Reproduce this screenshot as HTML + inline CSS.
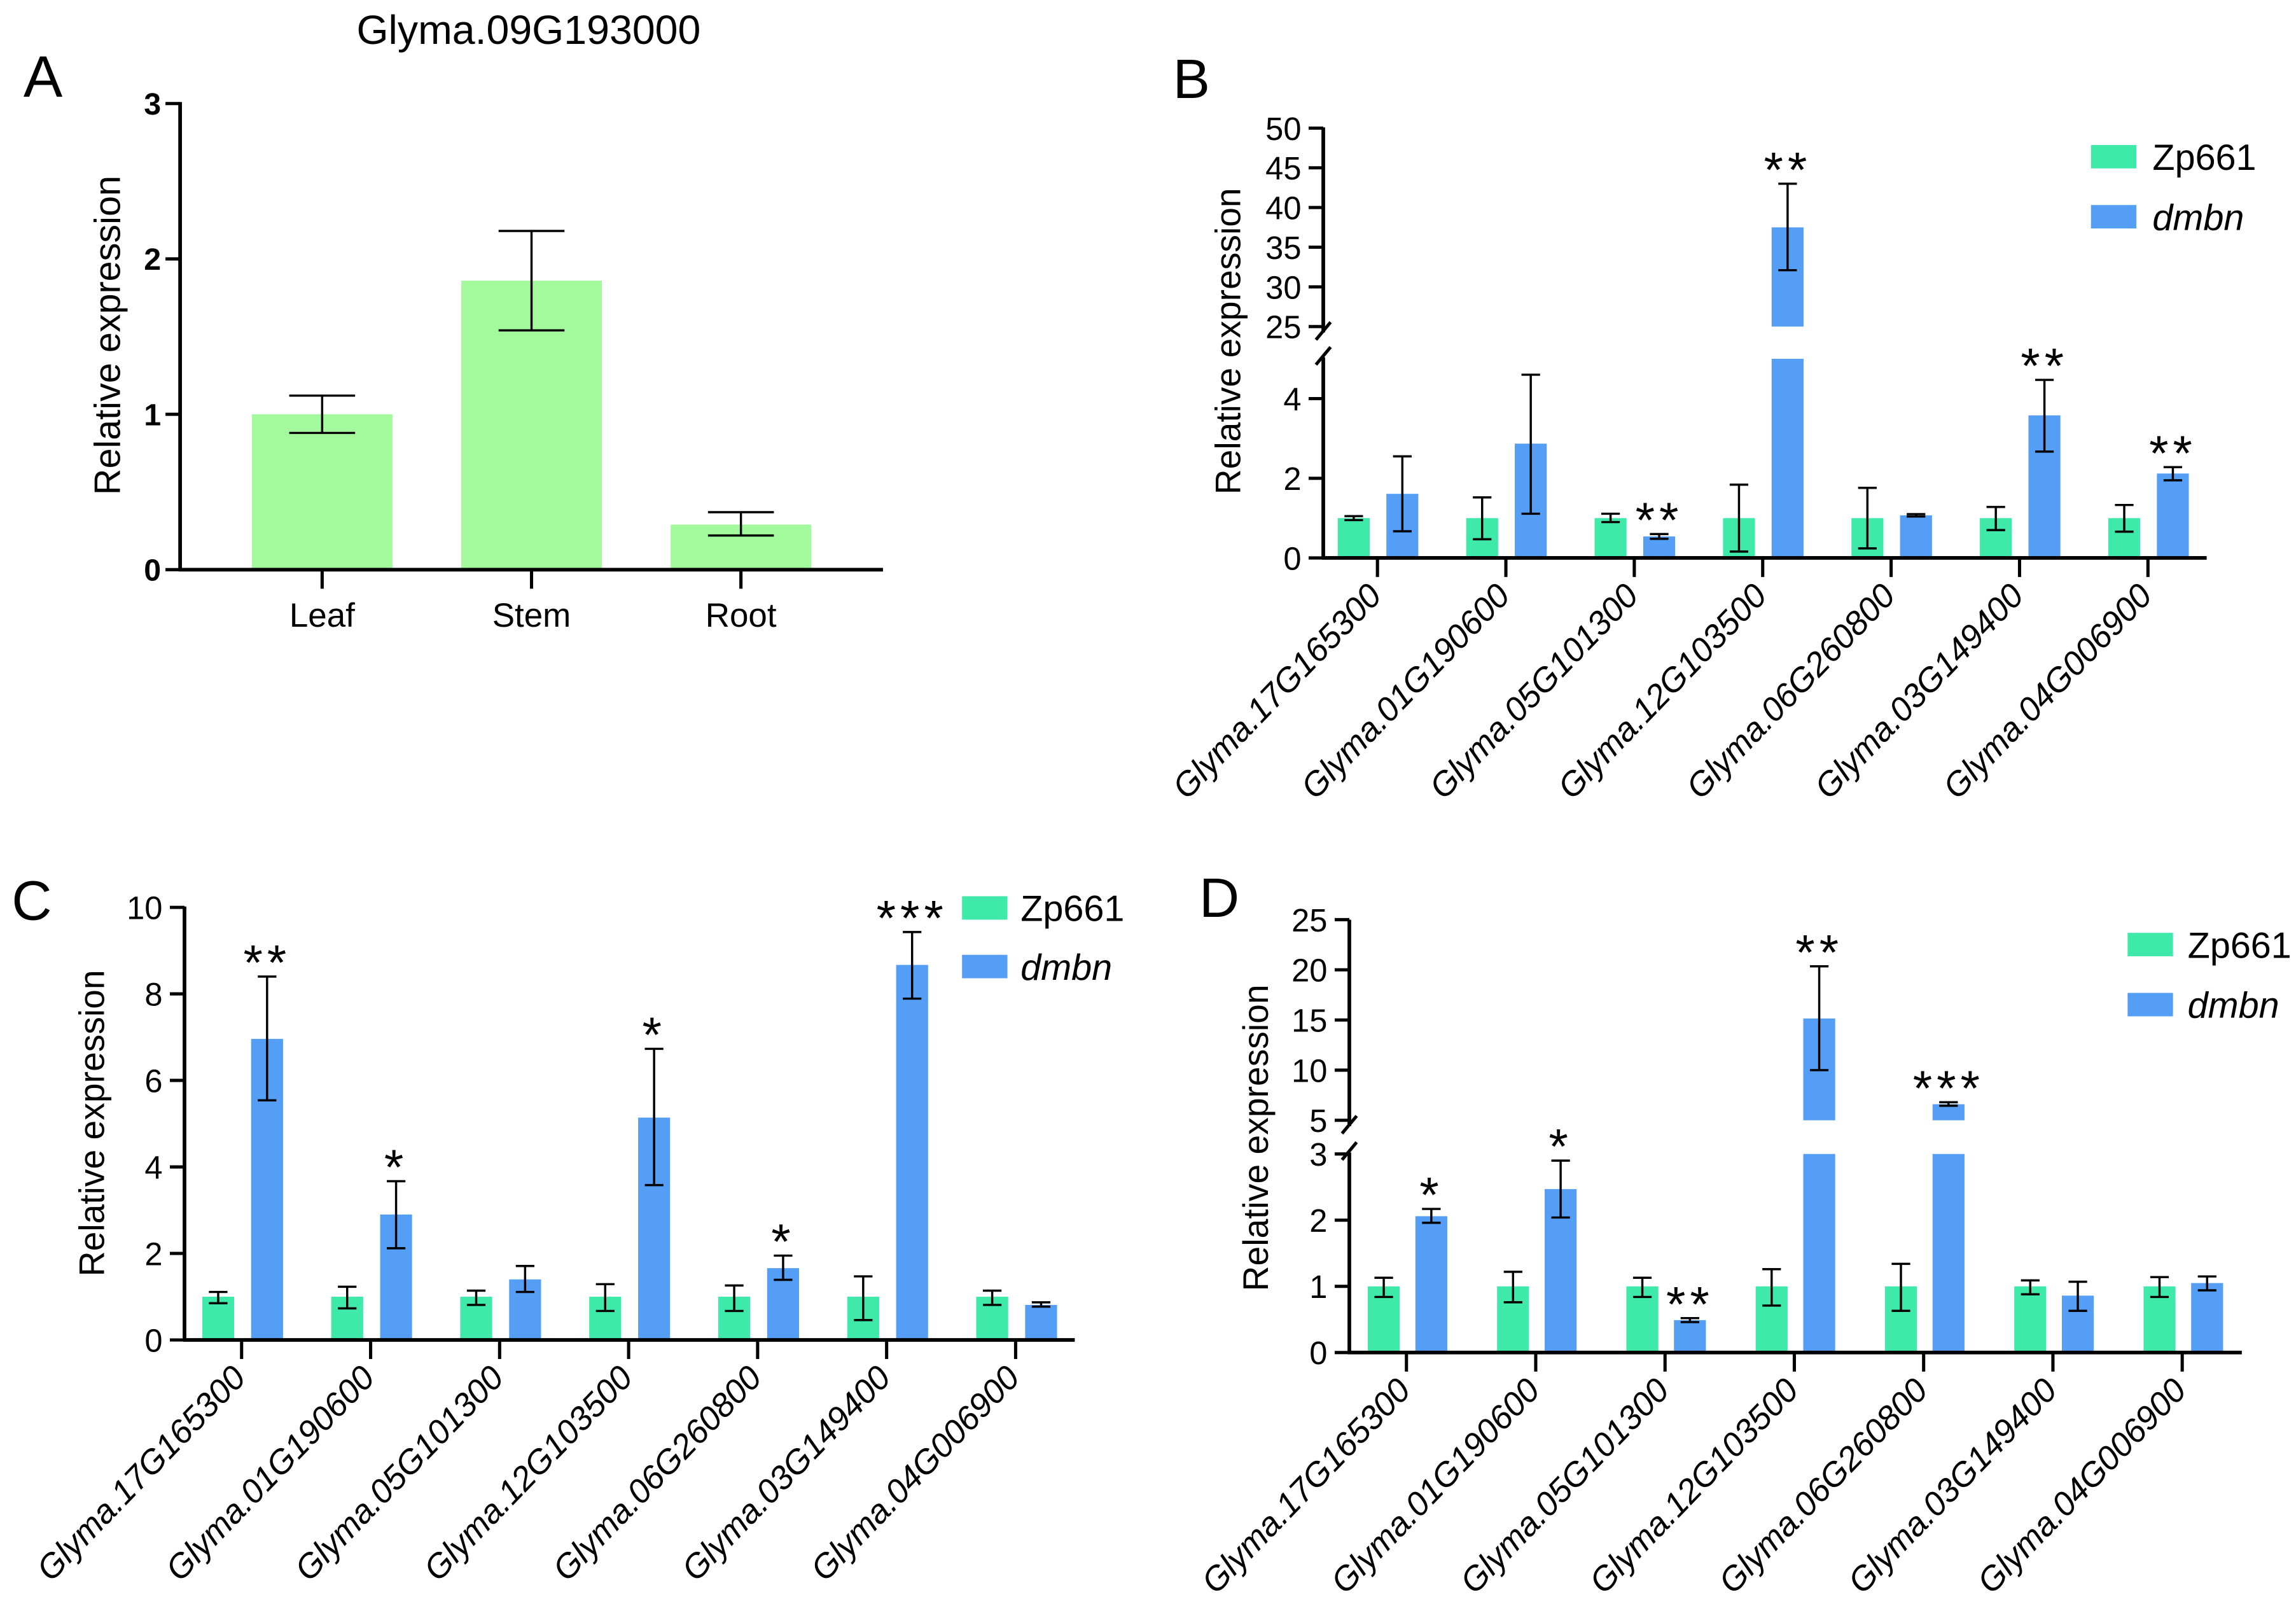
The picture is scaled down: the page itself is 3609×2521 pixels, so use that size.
<!DOCTYPE html>
<html><head><meta charset="utf-8"><style>
html,body{margin:0;padding:0;background:#fff;}
svg{display:block;font-family:"Liberation Sans",sans-serif;}
</style></head><body>
<svg id="fig" xmlns="http://www.w3.org/2000/svg" width="3609" height="2521" viewBox="0 0 1568 1095.3" preserveAspectRatio="none">
<g id="pA"></g>
<g id="pB"></g>
<g id="pC"></g>
<g id="pD"></g>
</svg>
<script>
// Panel A data
const aCats = ["Leaf","Stem","Root"];
const aVals = [1.0, 1.86, 0.29];
const aLo = [0.88, 1.54, 0.22];
const aHi = [1.12, 2.18, 0.37];
const aTicks = [0,1,2,3];

// Shared categories
const genes = ["Glyma.17G165300","Glyma.01G190600","Glyma.05G101300","Glyma.12G103500","Glyma.06G260800","Glyma.03G149400","Glyma.04G006900"];

// Panel B
const bZp = [1,1,1,1,1,1,1];
const bZpLo = [0.95,0.47,0.9,0.16,0.24,0.70,0.66];
const bZpHi = [1.05,1.52,1.11,1.84,1.76,1.28,1.33];
const bDm = [1.61,2.87,0.54,37.5,1.07,3.58,2.12];
const bDmLo = [0.67,1.11,0.48,32.1,1.04,2.67,1.95];
const bDmHi = [2.55,4.6,0.6,43,1.1,4.47,2.28];
const bStars = ["","","**","**","","**","**"];
const bTicksLow = [0,2,4];
const bTicksHigh = [25,30,35,40,45,50];

// Panel C
const cZp = [1,1,1,1,1,1,1];
const cZpLo = [0.85,0.73,0.81,0.67,0.67,0.46,0.81];
const cZpHi = [1.11,1.23,1.14,1.29,1.26,1.47,1.14];
const cDm = [6.96,2.9,1.4,5.14,1.66,8.67,0.81];
const cDmLo = [5.54,2.12,1.11,3.58,1.39,7.89,0.77];
const cDmHi = [8.4,3.67,1.71,6.73,1.95,9.43,0.87];
const cStars = ["**","*","","*","*","***",""];
const cTicks = [0,2,4,6,8,10];

// Panel D
const dZp = [1,1,1,1,1,1,1];
const dZpLo = [0.84,0.76,0.84,0.71,0.63,0.88,0.84];
const dZpHi = [1.13,1.22,1.13,1.26,1.34,1.09,1.14];
const dDm = [2.06,2.47,0.49,15.15,6.6,0.86,1.05];
const dDmLo = [1.96,2.04,0.46,10,6.45,0.63,0.94];
const dDmHi = [2.17,2.9,0.52,20.35,6.8,1.07,1.15];
const dStars = ["*","*","**","**","***","",""];
const dTicksLow = [0,1,2,3];
const dTicksHigh = [5,10,15,20,25];

const NS = "http://www.w3.org/2000/svg";
const GREEN_A = "#a2fa9c", ZP = "#3fe9a9", DM = "#559ef5";
function mk(parent, tag, attrs, txt){
  const e = document.createElementNS(NS, tag);
  for (const k in attrs) e.setAttribute(k, attrs[k]);
  if (txt !== undefined) e.textContent = txt;
  parent.appendChild(e);
  return e;
}
function line(p,x1,y1,x2,y2,w,name){
  const e = mk(p,"line",{x1:x1,y1:y1,x2:x2,y2:y2,stroke:"#000","stroke-width":w});
  
  
  return e;
}
function errbar(p,x,yLo,yHi,cap,name){
  const g = mk(p,"g",{});
  
  
  mk(g,"line",{x1:x,y1:yLo,x2:x,y2:yHi,stroke:"#000","stroke-width":1.5});
  mk(g,"line",{x1:x-cap/2,y1:yLo,x2:x+cap/2,y2:yLo,stroke:"#000","stroke-width":1.5});
  mk(g,"line",{x1:x-cap/2,y1:yHi,x2:x+cap/2,y2:yHi,stroke:"#000","stroke-width":1.5});
}
function label(p,x,y,txt,size,name,extra){
  const a = Object.assign({x:x,y:y,"font-size":size,fill:"#000"}, extra||{});
  const e = mk(p,"text",a,txt);
  
  
  return e;
}

// ---------- Panel A ----------
(function(){
  const p = document.getElementById("pA");
  const ax = 123, y0 = 389, unit = 106.1;
  const y = v => y0 - v*unit;
  const xs = [220, 363, 506], bw = 96;
  label(p,361,30,"Glyma.09G193000",28,"panel-a-title",{"text-anchor":"middle"});
  label(p,16,66,"A",40,"panel-a-letter");
  label(p,82,229,"Relative expression",25,"y-axis-title",{"text-anchor":"middle",transform:"rotate(-90 82 229)"});
  aVals.forEach((v,i)=>{
    const r = mk(p,"rect",{x:xs[i]-bw/2,y:y(v),width:bw,height:y0-y(v),fill:GREEN_A});
    
    
    errbar(p,xs[i],y(aLo[i]),y(aHi[i]),45,'error-bar-'+aCats[i].toLowerCase());
    line(p,xs[i],y0,xs[i],y0+13,2.2,'x-tick');
    label(p,xs[i],428,aCats[i],23,'x-tick-label',{"text-anchor":"middle"});
  });
  line(p,ax,y(3)-1,ax,y0+1,2.5,'y-axis');
  line(p,ax-1,y0,603,y0,2.5,'x-axis');
  aTicks.forEach(t=>{
    line(p,ax-10,y(t),ax,y(t),2.2,'y-tick');
    label(p,ax-13,y(t)+7.5,String(t),21,'y-tick-label',{"text-anchor":"end","font-weight":"bold"});
  });
})();

// ---------- Generic grouped panel ----------
function grouped(cfg){
  const p = document.getElementById(cfg.id);
  const y = cfg.y;
  label(p,cfg.letter[1],cfg.letter[2],cfg.letter[0],38,'panel-letter');
  label(p,cfg.ytitle[0],cfg.ytitle[1],"Relative expression",24,'y-axis-title',{"text-anchor":"middle",transform:"rotate(-90 "+cfg.ytitle[0]+" "+cfg.ytitle[1]+")"});
  const bw = 21.8;
  genes.forEach((g,i)=>{
    const cx = cfg.x0 + i*cfg.step;
    const xz = cx + cfg.offZ, xd = cx + cfg.offD;
    const rz = mk(p,"rect",{x:xz-bw/2,y:y(cfg.zp[i]),width:bw,height:cfg.y0-y(cfg.zp[i]),fill:ZP});
    
    
    errbar(p,xz,y(cfg.zpLo[i]),y(cfg.zpHi[i]),12.7,'error-bar-zp661');
    const v = cfg.dm[i];
    if (cfg.brk && v > cfg.brk[0]) {
      const r1 = mk(p,"rect",{x:xd-bw/2,y:y(cfg.brk[0]),width:bw,height:cfg.y0-y(cfg.brk[0]),fill:DM});
      
      
      const r2 = mk(p,"rect",{x:xd-bw/2,y:y(v),width:bw,height:y(cfg.brk[1])-y(v),fill:DM});
      
      
    } else {
      const r = mk(p,"rect",{x:xd-bw/2,y:y(v),width:bw,height:cfg.y0-y(v),fill:DM});
      
      
    }
    errbar(p,xd,y(cfg.dmLo[i]),y(cfg.dmHi[i]),12.7,'error-bar-dmbn');
    if (cfg.stars[i]) {
      label(p,xd,y(cfg.dmHi[i])+2,cfg.stars[i],34,'significance-marker',{"text-anchor":"middle","letter-spacing":"3"});
    }
    line(p,cx,cfg.y0,cx,cfg.y0+13,2.2,'x-tick');
    const lx = cx+4, ly = cfg.y0+27;
    label(p,lx,ly,g,23,'x-tick-label',{"text-anchor":"end","font-style":"italic",transform:"rotate(-46 "+lx+" "+ly+")"});
  });
  line(p,cfg.ax-1,cfg.y0,cfg.xEnd,cfg.y0,2.5,'x-axis');
  if (cfg.brk) {
    const yb0 = y(cfg.brk[0]), yb1 = y(cfg.brk[1]);
    line(p,cfg.ax,cfg.y0+1,cfg.ax,yb0-1,2.5,'y-axis-lower');
    line(p,cfg.ax,yb1+4,cfg.ax,cfg.yTop,2.5,'y-axis-upper');
    line(p,cfg.ax-5,yb0+4,cfg.ax+5,yb0-8,2.2,'axis-break-mark');
    line(p,cfg.ax-5,yb1+9,cfg.ax+5,yb1-3,2.2,'axis-break-mark');
  } else {
    line(p,cfg.ax,cfg.y0+1,cfg.ax,cfg.yTop,2.5,'y-axis');
  }
  cfg.ticks.forEach(t=>{
    line(p,cfg.ax-10,y(t),cfg.ax,y(t),2.2,'y-tick');
    label(p,cfg.ax-15,y(t)+8,String(t),22,'y-tick-label',{"text-anchor":"end"});
  });
  const L = cfg.legend;
  const s1 = mk(p,"rect",{x:L[0],y:L[1],width:31,height:16,fill:ZP});
  
  
  const s2 = mk(p,"rect",{x:L[0],y:L[2],width:31,height:16,fill:DM});
  
  
  label(p,L[3],L[1]+17,"Zp661",25,'legend-label-zp661');
  label(p,L[3],L[2]+17,"dmbn",25,'legend-label-dmbn',{"font-style":"italic"});
}

grouped({id:"pB", letter:["B",801,67], ytitle:[847,233], ax:903.7, y0:381, xEnd:1507, yTop:87,
  x0:940.7, step:87.7, offZ:-16.2, offD:17,
  y: v => v <= 5 ? 381 - v*27.2 : 223 - (v-25)*5.42, brk:[5,25],
  zp:bZp, zpLo:bZpLo, zpHi:bZpHi, dm:bDm, dmLo:bDmLo, dmHi:bDmHi, stars:bStars,
  ticks: bTicksLow.concat(bTicksHigh), legend:[1428,99,140,1470]});

grouped({id:"pC", letter:["C",8,628], ytitle:[71,767], ax:126, y0:915, xEnd:734, yTop:619,
  x0:165, step:88.1, offZ:-16, offD:17.4,
  y: v => 915 - v*29.54, brk:null,
  zp:cZp, zpLo:cZpLo, zpHi:cZpHi, dm:cDm, dmLo:cDmLo, dmHi:cDmHi, stars:cStars,
  ticks: cTicks, legend:[657,612,652,697]});

grouped({id:"pD", letter:["D",819,626], ytitle:[866,777], ax:921.5, y0:923.6, xEnd:1531, yTop:628,
  x0:960.5, step:88.3, offZ:-15.5, offD:17,
  y: v => v <= 3 ? 923.6 - v*45.2 : 765 - (v-5)*6.85, brk:[3,5],
  zp:dZp, zpLo:dZpLo, zpHi:dZpHi, dm:dDm, dmLo:dDmLo, dmHi:dDmHi, stars:dStars,
  ticks: dTicksLow.concat(dTicksHigh), legend:[1453,637,678,1494]});
</script>
</body></html>
